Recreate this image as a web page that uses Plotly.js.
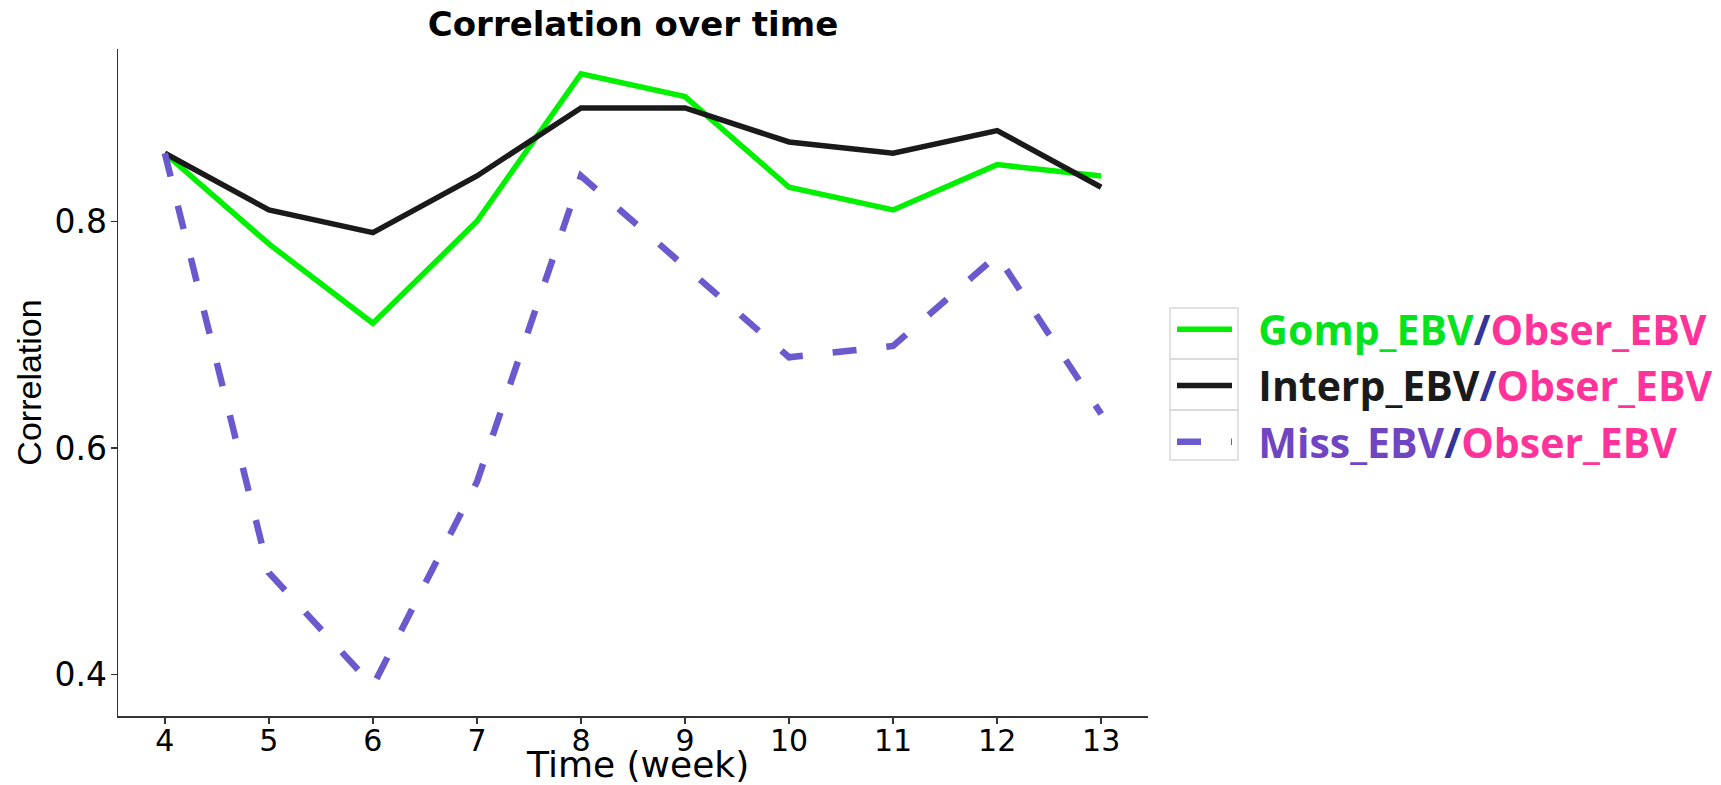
<!DOCTYPE html>
<html>
<head>
<meta charset="utf-8">
<script src="https://cdn.plot.ly/plotly-3.0.1.min.js"></script>
<style>html,body{margin:0;padding:0;background:#fff;}#chart{width:1721px;height:785px;}</style>
</head>
<body>
<div id="chart"></div>
<script>
// ---- data ----
const weeks = [4, 5, 6, 7, 8, 9, 10, 11, 12, 13];
const gompCorr = [0.86, 0.78, 0.71, 0.80, 0.93, 0.91, 0.83, 0.81, 0.85, 0.84];
const interpCorr = [0.86, 0.81, 0.79, 0.84, 0.90, 0.90, 0.87, 0.86, 0.88, 0.83];
const missCorr = [0.86, 0.49, 0.39, 0.57, 0.84, 0.76, 0.68, 0.69, 0.77, 0.63];
const seriesNames = ["Gomp_EBV", "Interp_EBV", "Miss_EBV"];
const refName = "Obser_EBV";
const xTitle = "Time (week)";
const yTitle = "Correlation";
const chartTitle = "Correlation over time";
const yTickVals = [0.4, 0.6, 0.8];
const yTickText = ["0.4", "0.6", "0.8"];

function legendLabel(name, color) {
  return '\u00a0\u00a0<span style="color:' + color + '">' + name + '</span>' +
         '<span style="color:#333399">/</span>' +
         '<span style="color:#FF3399">' + refName + '</span>';
}

const traces = [
  {x: weeks, y: gompCorr, mode: 'lines', name: legendLabel(seriesNames[0], '#06E31E'),
   line: {color: '#00F000', width: 5.5}},
  {x: weeks, y: interpCorr, mode: 'lines', name: legendLabel(seriesNames[1], '#1A1A1A'),
   line: {color: '#1A1A1A', width: 5.5}},
  {x: weeks, y: missCorr, mode: 'lines', name: legendLabel(seriesNames[2], '#6F45C2'),
   line: {color: '#6A5ACD', width: 6.5, dash: '24px,30px'}}
];

// plot area geometry helpers for legend key boxes
const L = 118, R = 573, T = 49, B = 69, W = 1721, H = 785;
const pw = W - L - R, ph = H - T - B;
const px2x = p => (p - L) / pw;
const px2y = p => (H - B - p) / ph;
const boxRows = [308, 359, 410, 460];
const shapes = [];
for (let i = 0; i < 3; i++) {
  shapes.push({type: 'rect', xref: 'paper', yref: 'paper',
    x0: px2x(1170), x1: px2x(1238), y0: px2y(boxRows[i + 1]), y1: px2y(boxRows[i]),
    line: {color: '#D9D9D9', width: 1.5}, fillcolor: 'rgba(0,0,0,0)'});
}

const layout = {
  width: W, height: H, autosize: false,
  margin: {l: L, r: R, t: T, b: B, pad: 0, autoexpand: false},
  paper_bgcolor: '#FFFFFF', plot_bgcolor: '#FFFFFF',
  title: {text: '<b>' + chartTitle + '</b>', x: 0.5, xref: 'paper', xanchor: 'center',
          y: 1 - 24 / H, yref: 'container', yanchor: 'middle',
          font: {family: 'DejaVu Sans', size: 34, color: '#000000'}},
  xaxis: {range: [3.55, 13.45], tickmode: 'linear', tick0: 4, dtick: 1,
          showgrid: false, zeroline: false, showline: true, linecolor: '#333333', linewidth: 1.5,
          ticks: 'outside', ticklen: 6, tickwidth: 1.5, tickcolor: '#333333',
          ticklabelstandoff: -9,
          tickfont: {family: 'DejaVu Sans', size: 30, color: '#000000'},
          fixedrange: true},
  yaxis: {range: [0.3635, 0.952], tickmode: 'array', tickvals: yTickVals, ticktext: yTickText,
          showgrid: false, zeroline: false, showline: true, linecolor: '#333333', linewidth: 1.5,
          ticks: 'outside', ticklen: 6, tickwidth: 1.5, tickcolor: '#333333',
          ticklabelstandoff: -3,
          tickfont: {family: 'DejaVu Sans', size: 33, color: '#000000'},
          title: {text: yTitle, standoff: 2,
                  font: {family: 'Liberation Sans', size: 34, color: '#000000'}},
          fixedrange: true},
  annotations: [
    {text: xTitle, xref: 'paper', yref: 'paper', x: 0.504, y: px2y(787),
     xanchor: 'center', yanchor: 'bottom', showarrow: false,
     font: {family: 'DejaVu Sans', size: 36, color: '#000000'}}
  ],
  showlegend: true,
  legend: {x: px2x(1172), xanchor: 'left', y: px2y(296), yanchor: 'top',
           bgcolor: 'rgba(0,0,0,0)', borderwidth: 0, itemwidth: 55, tracegroupgap: 0,
           font: {family: 'Open Sans', size: 41, weight: 'bold', color: '#000000'}},
  shapes: shapes
};

Plotly.newPlot('chart', traces, layout, {displayModeBar: false, staticPlot: true});
</script>
</body>
</html>
